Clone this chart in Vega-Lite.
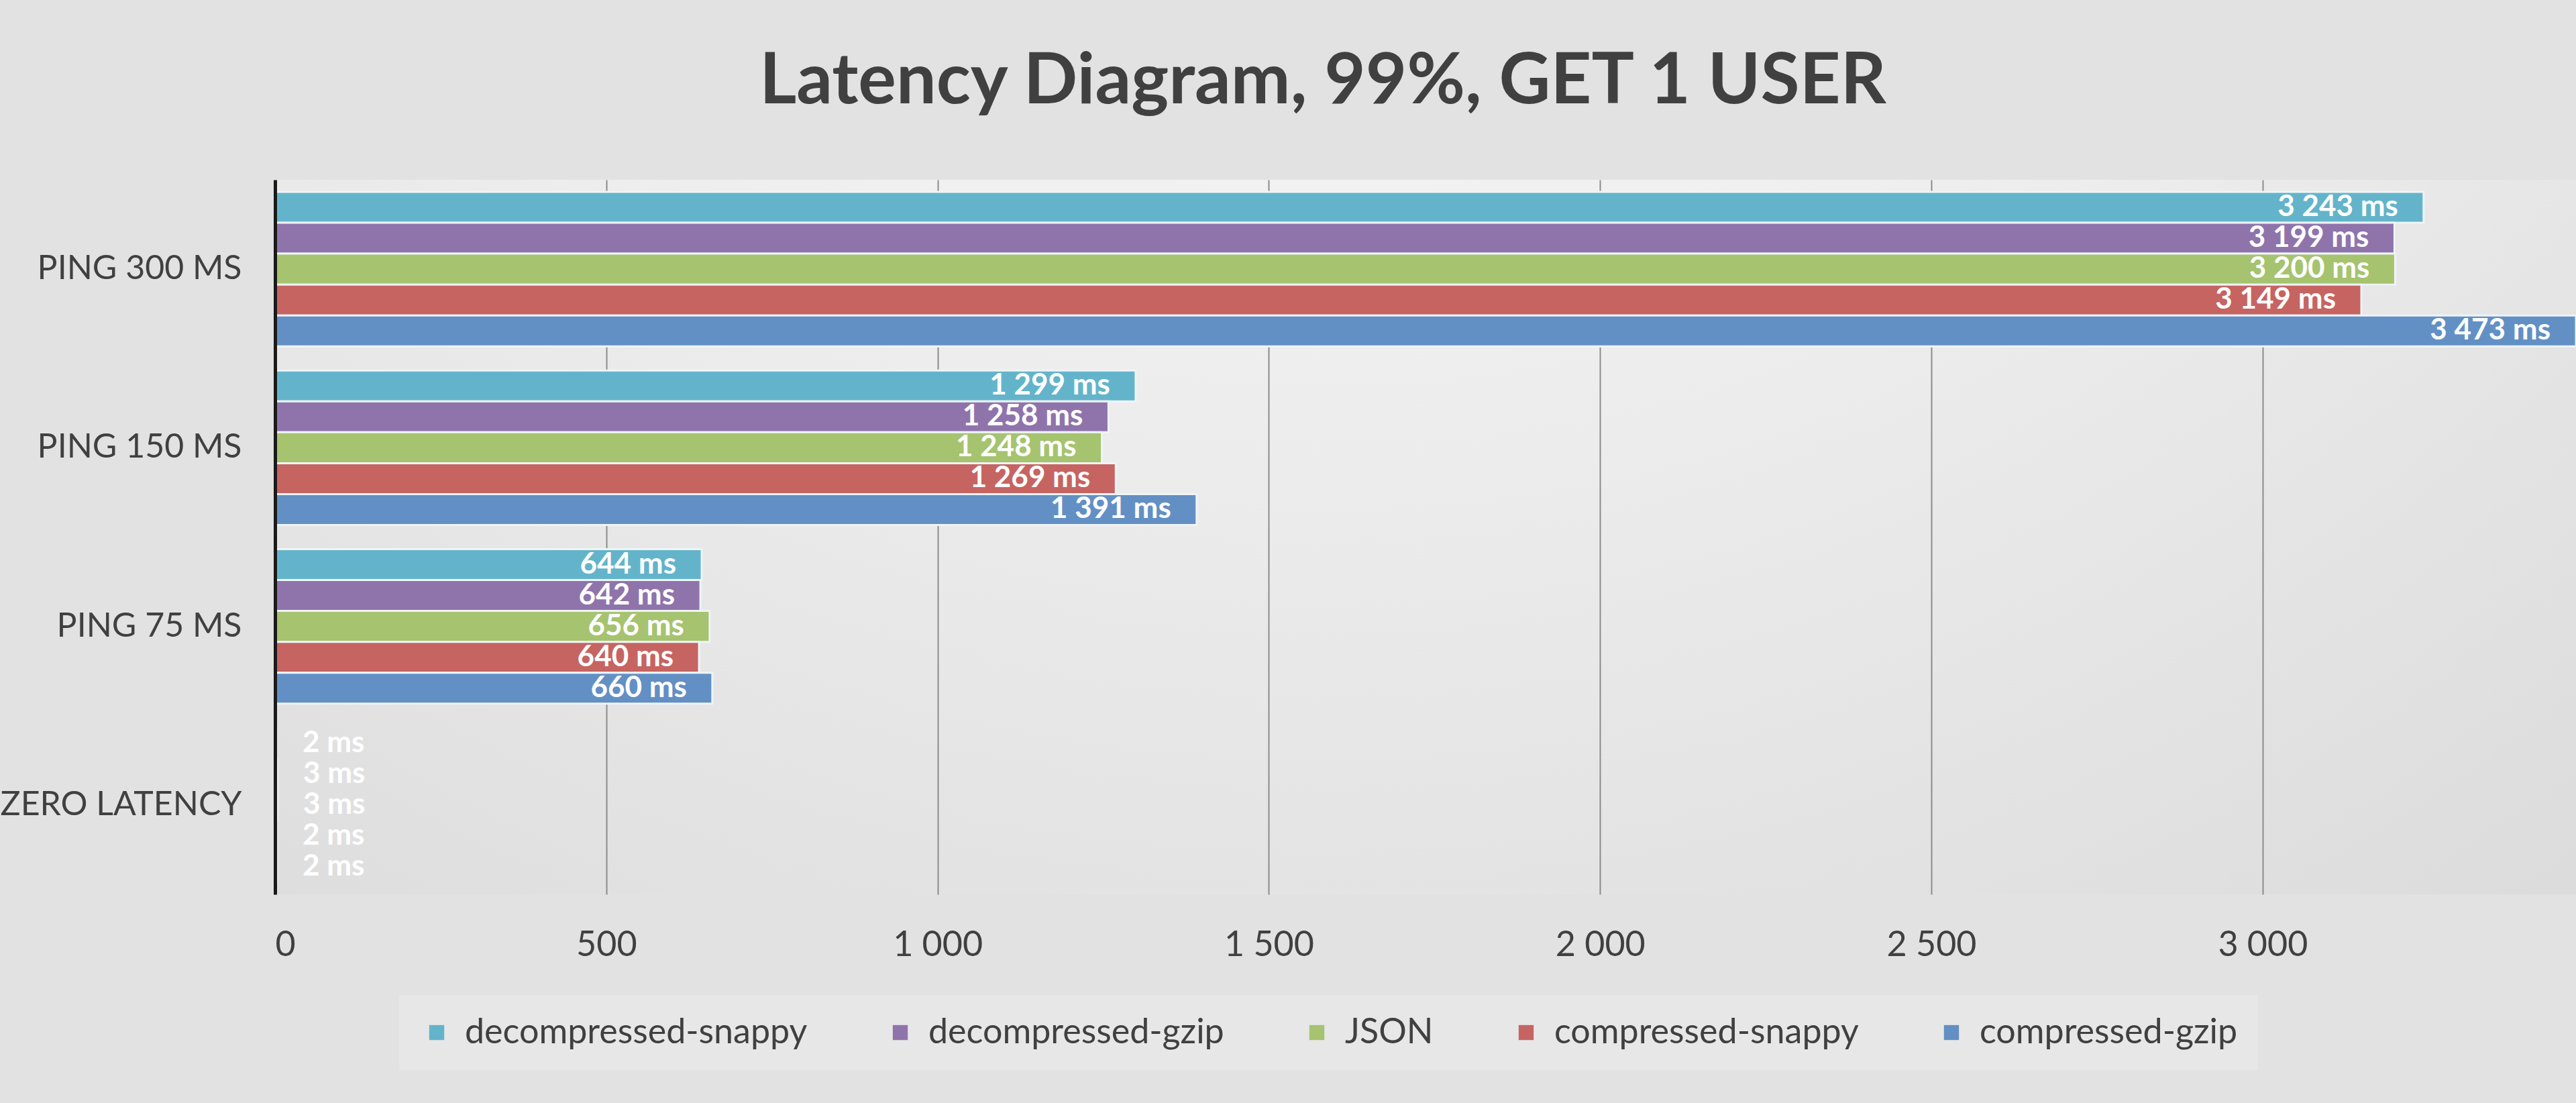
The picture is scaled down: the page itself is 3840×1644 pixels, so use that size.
{
  "$schema": "https://vega.github.io/schema/vega-lite/v6.json",
  "width": 3430,
  "height": 1065,
  "autosize": {"type": "none"},
  "padding": {"left": 410, "top": 268, "right": 0, "bottom": 311},
  "background": "#e2e2e2",
  "title": {
    "text": "Latency Diagram, 99%, GET 1 USER",
    "font": "Lato",
    "fontSize": 106,
    "fontWeight": "bold",
    "color": "#404040",
    "anchor": "middle",
    "frame": "group",
    "dx": -153,
    "offset": 92
  },
  "config": {
    "locale": {"number": {"decimal": ",", "thousands": " ", "grouping": [3], "currency": ["", " ms"]}},
    "view": {
      "stroke": null,
      "fill": {
        "gradient": "radial",
        "x1": 0.455, "y1": -0.11, "r1": 0,
        "x2": 0.455, "y2": -0.11, "r2": 1.1,
        "stops": [
          {"offset": 0, "color": "#ffffff"},
          {"offset": 0.45, "color": "#f0f0f0"},
          {"offset": 1, "color": "#d4d4d4"}
        ]
      }
    },
    "font": "Lato"
  },
  "data": {
    "values": [
      {"category": "PING 300 MS", "series": "decompressed-snappy", "value": 3243},
      {"category": "PING 300 MS", "series": "decompressed-gzip", "value": 3199},
      {"category": "PING 300 MS", "series": "JSON", "value": 3200},
      {"category": "PING 300 MS", "series": "compressed-snappy", "value": 3149},
      {"category": "PING 300 MS", "series": "compressed-gzip", "value": 3473},
      {"category": "PING 150 MS", "series": "decompressed-snappy", "value": 1299},
      {"category": "PING 150 MS", "series": "decompressed-gzip", "value": 1258},
      {"category": "PING 150 MS", "series": "JSON", "value": 1248},
      {"category": "PING 150 MS", "series": "compressed-snappy", "value": 1269},
      {"category": "PING 150 MS", "series": "compressed-gzip", "value": 1391},
      {"category": "PING 75 MS", "series": "decompressed-snappy", "value": 644},
      {"category": "PING 75 MS", "series": "decompressed-gzip", "value": 642},
      {"category": "PING 75 MS", "series": "JSON", "value": 656},
      {"category": "PING 75 MS", "series": "compressed-snappy", "value": 640},
      {"category": "PING 75 MS", "series": "compressed-gzip", "value": 660},
      {"category": "ZERO LATENCY", "series": "decompressed-snappy", "value": 2},
      {"category": "ZERO LATENCY", "series": "decompressed-gzip", "value": 3},
      {"category": "ZERO LATENCY", "series": "JSON", "value": 3},
      {"category": "ZERO LATENCY", "series": "compressed-snappy", "value": 2},
      {"category": "ZERO LATENCY", "series": "compressed-gzip", "value": 2}
    ]
  },
  "encoding": {
    "y": {
      "field": "category",
      "type": "nominal",
      "sort": ["PING 300 MS", "PING 150 MS", "PING 75 MS", "ZERO LATENCY"],
      "scale": {"paddingInner": 0.135, "paddingOuter": 0.0675},
      "axis": {
        "title": null,
        "ticks": false,
        "domain": true,
        "domainColor": "#1a1a1a",
        "domainWidth": 5,
        "labelFont": "Lato",
        "labelFontSize": 50,
        "labelColor": "#404040",
        "labelPadding": 50,
        "labelLimit": 1000,
        "grid": false,
        "zindex": 1
      }
    },
    "yOffset": {
      "field": "series",
      "type": "nominal",
      "sort": ["decompressed-snappy", "decompressed-gzip", "JSON", "compressed-snappy", "compressed-gzip"],
      "scale": {"paddingInner": 0, "paddingOuter": 0}
    },
    "x": {
      "field": "value",
      "type": "quantitative",
      "scale": {"domain": [0, 3473], "nice": false, "zero": true},
      "axis": {
        "title": null,
        "values": [0, 500, 1000, 1500, 2000, 2500, 3000],
        "format": ",d",
        "ticks": false,
        "domain": false,
        "grid": true,
        "gridColor": "#8c8c8c",
        "gridWidth": 2,
        "labelFont": "Lato",
        "labelFontSize": 52,
        "labelColor": "#404040",
        "labelPadding": 50,
        "zindex": 0
      }
    }
  },
  "layer": [
    {
      "mark": {"type": "bar", "stroke": "#eef4f7", "strokeWidth": 3},
      "encoding": {
        "color": {
          "field": "series",
          "type": "nominal",
          "scale": {
            "domain": ["decompressed-snappy", "decompressed-gzip", "JSON", "compressed-snappy", "compressed-gzip"],
            "range": ["#63b4cb", "#8f74ac", "#a6c36f", "#c66462", "#6390c4"]
          },
          "legend": {
            "title": null,
            "orient": "none",
            "direction": "horizontal",
            "legendX": 185,
            "legendY": 1215,
            "fillColor": "#e7e7e7",
            "padding": 30,
            "symbolType": "square",
            "symbolSize": 500,
            "symbolStrokeWidth": 0,
            "labelFont": "Lato",
            "labelFontSize": 52,
            "labelColor": "#404040",
            "labelOffset": 16,
            "columnPadding": 112,
            "labelLimit": 1000
          }
        }
      }
    },
    {
      "transform": [{"filter": "datum.value >= 100"}],
      "mark": {"type": "text", "align": "right", "baseline": "middle", "dx": -38, "font": "Lato", "fontSize": 44, "fontWeight": "bold", "color": "#ffffff"},
      "encoding": {"text": {"field": "value", "type": "quantitative", "format": "$,d"}}
    },
    {
      "transform": [{"filter": "datum.value < 100"}],
      "mark": {"type": "text", "align": "left", "baseline": "middle", "dx": 39, "font": "Lato", "fontSize": 44, "fontWeight": "bold", "color": "#ffffff"},
      "encoding": {"text": {"field": "value", "type": "quantitative", "format": "$,d"}}
    }
  ]
}
